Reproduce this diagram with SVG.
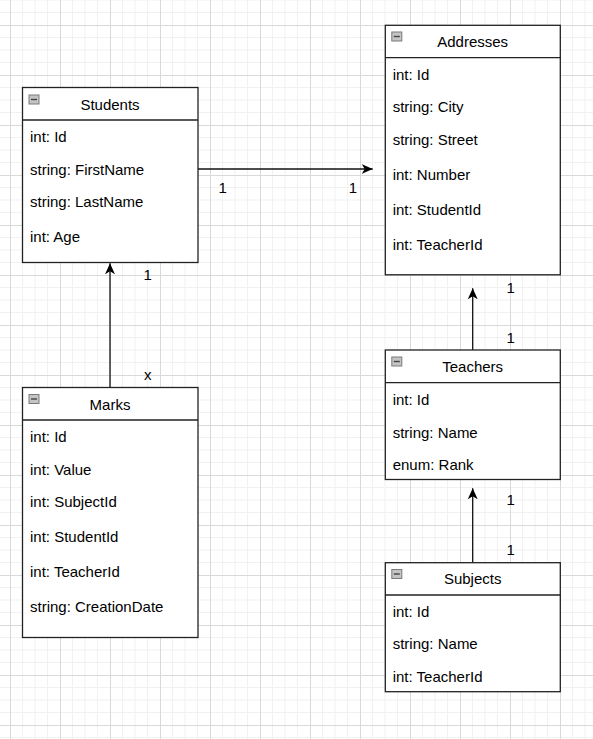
<svg xmlns="http://www.w3.org/2000/svg" width="593" height="739" viewBox="0 0 593 739">
<style>
.box{fill:#fff;stroke:#222;stroke-width:1.3}
.sep{stroke:#222;stroke-width:1.3}
.t{font-family:"Liberation Sans",Arial,sans-serif;font-size:15px;fill:#000}
.title{text-anchor:middle}
.edge{fill:none;stroke:#111;stroke-width:1.3}
.ico{fill:#c4c4c4;stroke:#7a7a7a;stroke-width:1}
.icoL{stroke:#444;stroke-width:1.4}
</style>
<defs>
<pattern id="grid" x="10" y="25" width="50" height="50" patternUnits="userSpaceOnUse">
<path d="M12.5 0V50M25 0V50M37.5 0V50M0 12.5H50M0 25H50M0 37.5H50" stroke="#f1f1f1" stroke-width="1" fill="none"/>
<path d="M0.5 0V50M0 0.5H50" stroke="#d9d9d9" stroke-width="1" fill="none"/>
</pattern>
<marker id="arr" viewBox="0 0 11 10" refX="11" refY="5" markerWidth="11" markerHeight="10" markerUnits="userSpaceOnUse" orient="auto">
<path d="M0,0 L11,5 L0,10 L3,5 Z" fill="#000"/>
</marker>
<g id="icon">
<rect class="ico" x="0.5" y="0.5" width="10" height="9"/>
<line class="icoL" x1="2.5" y1="5" x2="8.5" y2="5"/>
</g>
</defs>
<rect width="593" height="739" fill="#fff"/>
<rect width="593" height="739" fill="url(#grid)"/>

<g id="connectors">
<line class="edge" x1="198" y1="169" x2="372.7" y2="169" marker-end="url(#arr)"/>
<text class="t" x="222.7" y="193" text-anchor="middle">1</text>
<text class="t" x="353" y="193" text-anchor="middle">1</text>
<line class="edge" x1="110" y1="387.5" x2="110" y2="263.3" marker-end="url(#arr)"/>
<text class="t" x="147.7" y="280.4" text-anchor="middle">1</text>
<text class="t" x="147.7" y="380" text-anchor="middle">x</text>
<line class="edge" x1="472.7" y1="350" x2="472.7" y2="288.3" marker-end="url(#arr)"/>
<text class="t" x="510.7" y="293.4" text-anchor="middle">1</text>
<text class="t" x="510.7" y="342.7" text-anchor="middle">1</text>
<line class="edge" x1="472.7" y1="562.5" x2="472.7" y2="488.3" marker-end="url(#arr)"/>
<text class="t" x="510.7" y="505.4" text-anchor="middle">1</text>
<text class="t" x="510.7" y="554.7" text-anchor="middle">1</text>
</g>

<g id="students">
<rect class="box" x="22.5" y="87.5" width="175.5" height="175"/>
<line class="sep" x1="22.5" y1="120" x2="198" y2="120"/>
<use href="#icon" x="28.5" y="94.5"/>
<text class="t title" x="110" y="109.7">Students</text>
<text class="t" x="30" y="142">int: Id</text>
<text class="t" x="30" y="175">string: FirstName</text>
<text class="t" x="30" y="207">string: LastName</text>
<text class="t" x="30" y="242">int: Age</text>
</g>

<g id="addresses">
<rect class="box" x="385.3" y="25.3" width="175" height="249.5"/>
<line class="sep" x1="385.3" y1="57.7" x2="560.3" y2="57.7"/>
<use href="#icon" x="391.3" y="31.5"/>
<text class="t title" x="472.7" y="47">Addresses</text>
<text class="t" x="392.7" y="80">int: Id</text>
<text class="t" x="392.7" y="112">string: City</text>
<text class="t" x="392.7" y="145">string: Street</text>
<text class="t" x="392.7" y="179.6">int: Number</text>
<text class="t" x="392.7" y="215.2">int: StudentId</text>
<text class="t" x="392.7" y="249.6">int: TeacherId</text>
</g>

<g id="teachers">
<rect class="box" x="385.3" y="350" width="175" height="129.5"/>
<line class="sep" x1="385.3" y1="382.7" x2="560.3" y2="382.7"/>
<use href="#icon" x="391.3" y="356.5"/>
<text class="t title" x="472.7" y="372">Teachers</text>
<text class="t" x="392.7" y="405.3">int: Id</text>
<text class="t" x="392.7" y="437.5">string: Name</text>
<text class="t" x="392.7" y="470.3">enum: Rank</text>
</g>

<g id="subjects">
<rect class="box" x="385.3" y="562.7" width="175" height="129"/>
<line class="sep" x1="385.3" y1="595" x2="560.3" y2="595"/>
<use href="#icon" x="391.3" y="569"/>
<text class="t title" x="472.7" y="583.7">Subjects</text>
<text class="t" x="392.7" y="617">int: Id</text>
<text class="t" x="392.7" y="648.5">string: Name</text>
<text class="t" x="392.7" y="682">int: TeacherId</text>
</g>

<g id="marks">
<rect class="box" x="22.5" y="387.5" width="175.5" height="250"/>
<line class="sep" x1="22.5" y1="420" x2="198" y2="420"/>
<use href="#icon" x="28.5" y="394"/>
<text class="t title" x="110" y="409.7">Marks</text>
<text class="t" x="30" y="442">int: Id</text>
<text class="t" x="30" y="475.3">int: Value</text>
<text class="t" x="30" y="507">int: SubjectId</text>
<text class="t" x="30" y="542">int: StudentId</text>
<text class="t" x="30" y="577.3">int: TeacherId</text>
<text class="t" x="30" y="612.3">string: CreationDate</text>
</g>
</svg>
